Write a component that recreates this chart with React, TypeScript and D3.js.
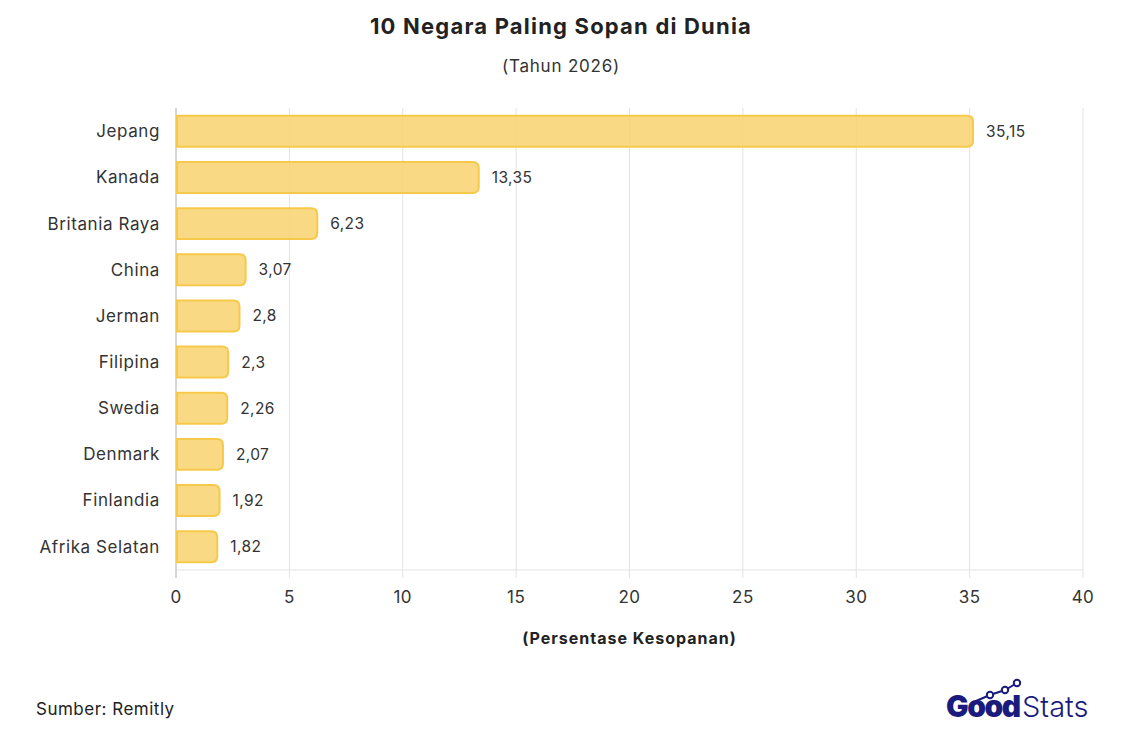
import React from 'react';
import * as d3 from 'd3';

const countries = ['Jepang', 'Kanada', 'Britania Raya', 'China', 'Jerman', 'Filipina', 'Swedia', 'Denmark', 'Finlandia', 'Afrika Selatan'];
const politeness = [35.15, 13.35, 6.23, 3.07, 2.8, 2.3, 2.26, 2.07, 1.92, 1.82];
const xTicks = [0, 5, 10, 15, 20, 25, 30, 35, 40];

const W = 1122;
const H = 736;
const FONT = 'Inter, "Noto Sans", sans-serif';
const NAVY = '#1b1b7e';

const fmt = (v: number) => String(v).replace('.', ',');

// bar with only the right side rounded
const barPath = (x0: number, x1: number, y: number, h: number, r: number) => {
  const rr = Math.min(r, (x1 - x0) / 2, h / 2);
  return `M${x0},${y}H${x1 - rr}Q${x1},${y} ${x1},${y + rr}V${y + h - rr}Q${x1},${y + h} ${x1 - rr},${y + h}H${x0}Z`;
};

export default function App() {
  const margin = { top: 108, right: 39, bottom: 166, left: 176 };
  const innerW = W - margin.left - margin.right;
  const innerH = H - margin.top - margin.bottom;

  const x = d3.scaleLinear().domain([0, 40]).range([0, innerW]);
  const y = d3.scaleBand<string>().domain(countries).range([0, innerH]).paddingInner(0.33).paddingOuter(0.17);

  return (
    <svg width={W} height={H} style={{ position: 'absolute', left: 0, top: 0, background: '#fff' }} fontFamily={FONT}>
      <text x={W / 2} y={34} textAnchor="middle" fontSize={22} fontWeight={700} fill="#222" letterSpacing={1.2}>10 Negara Paling Sopan di Dunia</text>
      <text x={W / 2} y={72} textAnchor="middle" fontSize={17} fill="#333" letterSpacing={0.8}>(Tahun 2026)</text>

      <g transform={`translate(${margin.left},${margin.top})`}>
        {xTicks.map((t) => (
          <g key={t}>
            <line x1={x(t)} x2={x(t)} y1={0} y2={innerH + 8} stroke="#e3e3e3" strokeWidth={1} />
            <text x={x(t)} y={innerH + 33} textAnchor="middle" fontSize={17} fill="#333" letterSpacing={0.4}>{t}</text>
          </g>
        ))}
        <line x1={0} x2={innerW} y1={innerH} y2={innerH} stroke="#e3e3e3" />
        <line x1={0} x2={0} y1={0} y2={innerH + 8} stroke="#ccc" strokeWidth={1.5} />

        {countries.map((c, i) => {
          const by = y(c)!;
          const bh = y.bandwidth();
          const xe = x(politeness[i]);
          return (
            <g key={c}>
              <path d={barPath(1, xe, by, bh, 6)} fill="#f9d26f" fillOpacity={0.85} stroke="#f7c94a" strokeWidth={2} />
              <text x={-16} y={by + bh / 2} dy="0.35em" textAnchor="end" fontSize={17} fill="#333" letterSpacing={0.6}>{c}</text>
              <text x={xe + 13} y={by + bh / 2} dy="0.35em" fontSize={15.5} fill="#333" letterSpacing={0.4}>{fmt(politeness[i])}</text>
            </g>
          );
        })}
      </g>

      <text x={margin.left + innerW / 2} y={644} textAnchor="middle" fontSize={16} fontWeight={700} fill="#222" letterSpacing={1}>(Persentase Kesopanan)</text>
      <text x={36} y={715} fontSize={17} fill="#222" letterSpacing={0.5}>Sumber: Remitly</text>

      <g transform="translate(946,717)">
        <polyline points="30,-16 44,-22 59,-27 71,-34" fill="none" stroke={NAVY} strokeWidth={2} />
        {[[44, -22], [59, -27], [71, -34]].map(([px, py], i) => (
          <circle key={i} cx={px} cy={py} r={3.2} fill="#fff" stroke={NAVY} strokeWidth={2} />
        ))}
        <text x={0} y={0} fontSize={30} fontWeight={900} fill={NAVY} letterSpacing={-1.5}>Good</text>
        <text x={76} y={0} fontSize={29} fontWeight={300} fill={NAVY}>Stats</text>
      </g>
    </svg>
  );
}
